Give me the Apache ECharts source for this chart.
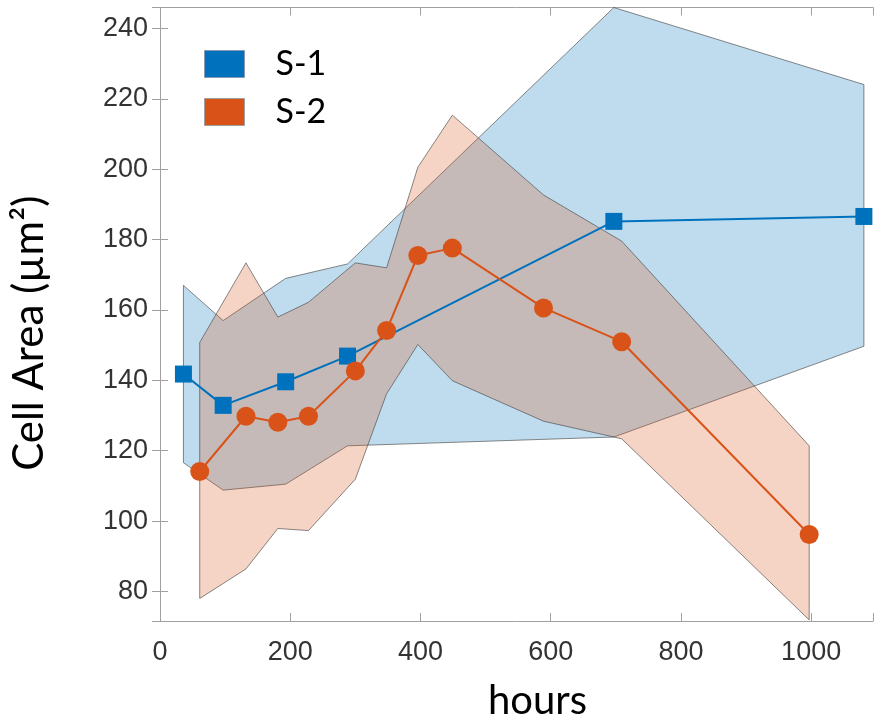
<!DOCTYPE html>
<html>
<head>
<meta charset="utf-8">
<script src="https://cdn.jsdelivr.net/npm/echarts@6/dist/echarts.min.js"></script>
<style>
  html, body { margin: 0; padding: 0; background: #fff; }
  #chart { width: 876px; height: 726px; }
</style>
</head>
<body>
<div id="chart"></div>
<script>
// S-1 (blue squares)
const s1Hours = [36, 97, 193, 288, 697, 1081];
const s1Area = [141.8, 132.9, 139.6, 146.9, 185.2, 186.6];
const s1Upper = [167.0, 157.0, 169.0, 173.1, 246.0, 224.1];
const s1Lower = [116.6, 108.8, 110.5, 121.4, 123.9, 149.7];

// S-2 (orange circles)
const s2Hours = [61, 132, 181, 228, 300, 348, 396, 449, 589, 709, 997];
const s2Area = [114.1, 129.8, 128.1, 129.8, 142.7, 154.2, 175.5, 177.6, 160.6, 151.0, 96.2];
const s2Upper = [150.8, 173.4, 158.0, 162.2, 173.4, 172.0, 200.6, 215.4, 192.7, 179.6, 121.4];
const s2Lower = [78.0, 86.4, 97.9, 97.3, 111.9, 136.2, 150.2, 139.9, 128.4, 123.4, 71.9];

const seriesNames = ['S-1', 'S-2'];
const xTicks = [0, 200, 400, 600, 800, 1000];
const yTicks = [80, 100, 120, 140, 160, 180, 200, 220, 240];

const blue = '#0072BD';
const orange = '#D95319';

function pairs(xs, ys) {
    return xs.map(function (x, i) { return [x, ys[i]]; });
}

// shaded band as a polygon: upper edge left->right, lower edge right->left
function band(name, xs, upper, lower, fill) {
    return {
        type: 'custom',
        name: name,
        silent: true,
        data: [[xs[0], upper[0]]],
        renderItem: function (params, api) {
            const pts = [];
            for (let i = 0; i < xs.length; i++) pts.push(api.coord([xs[i], upper[i]]));
            for (let i = xs.length - 1; i >= 0; i--) pts.push(api.coord([xs[i], lower[i]]));
            return {
                type: 'polygon',
                shape: { points: pts },
                style: { fill: fill, stroke: 'rgba(70,70,70,0.8)', lineWidth: 0.8 }
            };
        }
    };
}

const axisColor = '#a0a0a0';
const labelFont = { fontFamily: 'Liberation Sans', fontSize: 27, color: '#333' };

const chart = echarts.init(document.getElementById('chart'), null, { renderer: 'canvas' });

const option = {
    backgroundColor: '#fff',
    animation: false,
    grid: { left: 157, right: -2, top: 7.5, bottom: 95, containLabel: false },
    legend: {
        orient: 'vertical',
        left: 199,
        top: 42,
        itemWidth: 40,
        itemHeight: 27,
        itemGap: 14,
        textStyle: { fontFamily: 'Lato', fontSize: 34, color: '#000', padding: [0, 0, 0, 26] },
        data: [
            { name: seriesNames[0], icon: 'rect', itemStyle: { color: blue, borderColor: '#8a9ab0', borderWidth: 1 } },
            { name: seriesNames[1], icon: 'rect', itemStyle: { color: orange, borderColor: '#a0a0a0', borderWidth: 1 } }
        ]
    },
    xAxis: [{
        type: 'value',
        min: 0,
        max: 1095,
        interval: 200,
        name: 'hours',
        nameLocation: 'middle',
        nameGap: 60,
        nameTextStyle: { fontFamily: 'Lato', fontSize: 40, color: '#000', padding: [0, 0, 0, 42] },
        axisLine: { lineStyle: { color: axisColor, width: 1 } },
        axisTick: { inside: true, length: 8, lineStyle: { color: axisColor } },
        axisLabel: Object.assign({
            margin: 18,
            formatter: function (v) { return xTicks.indexOf(v) >= 0 ? String(v) : ''; }
        }, labelFont),
        splitLine: { show: false }
    }, {
        type: 'value',
        position: 'top',
        min: 0,
        max: 1095,
        interval: 200,
        axisLine: { lineStyle: { color: axisColor, width: 1 } },
        axisTick: { inside: true, length: 8, lineStyle: { color: axisColor } },
        axisLabel: { show: false },
        splitLine: { show: false }
    }],
    yAxis: [{
        type: 'value',
        min: 71.6,
        max: 246,
        splitNumber: 8,
        name: 'Cell Area (µm²)',
        nameLocation: 'middle',
        nameGap: 110,
        nameTextStyle: { fontFamily: 'Lato', fontSize: 42, color: '#000', padding: [0, 38, 0, 0] },
        axisLine: { show: true, lineStyle: { color: axisColor, width: 1 } },
        axisTick: { show: true, inside: true, length: 8, lineStyle: { color: axisColor } },
        axisLabel: Object.assign({
            margin: 12,
            formatter: function (v) { return yTicks.indexOf(v) >= 0 ? String(v) : ''; }
        }, labelFont),
        splitLine: { show: false }
    }, {
        type: 'value',
        position: 'right',
        min: 71.6,
        max: 246,
        splitNumber: 8,
        axisLine: { show: true, lineStyle: { color: axisColor, width: 1 } },
        axisTick: { show: true, inside: true, length: 8, lineStyle: { color: axisColor } },
        axisLabel: { show: false },
        splitLine: { show: false }
    }],
    series: [
        band('S-1 range', s1Hours, s1Upper, s1Lower, 'rgba(0,114,189,0.25)'),
        {
            type: 'line',
            name: seriesNames[0],
            data: pairs(s1Hours, s1Area),
            symbol: 'rect',
            symbolSize: 17,
            itemStyle: { color: blue },
            lineStyle: { color: blue, width: 2 }
        },
        band('S-2 range', s2Hours, s2Upper, s2Lower, 'rgba(217,83,25,0.25)'),
        {
            type: 'line',
            name: seriesNames[1],
            data: pairs(s2Hours, s2Area),
            symbol: 'circle',
            symbolSize: 19,
            itemStyle: { color: orange },
            lineStyle: { color: orange, width: 2 }
        }
    ]
};

chart.setOption(option);
</script>
</body>
</html>
